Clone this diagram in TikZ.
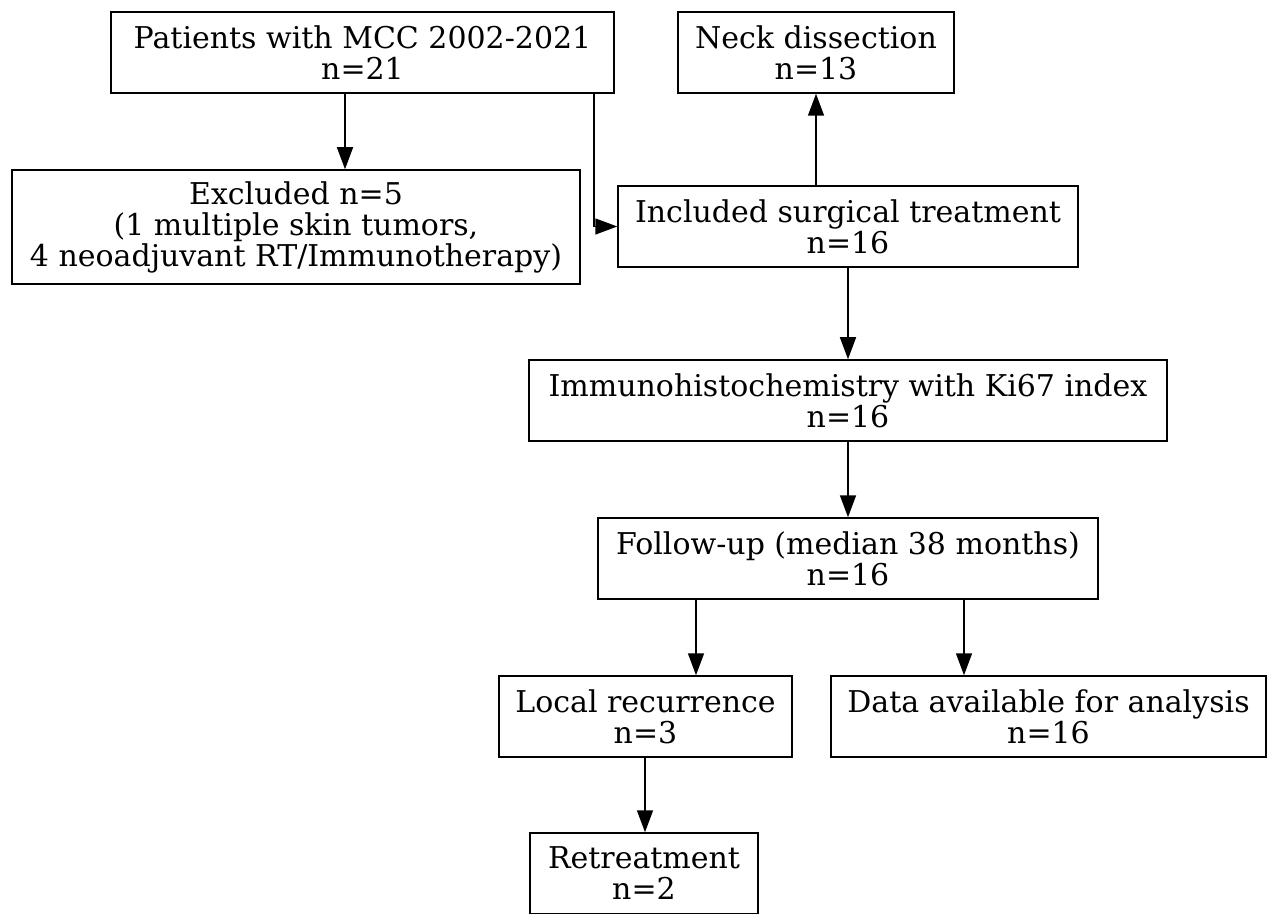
\documentclass[tikz,border=0pt]{standalone}
\usepackage{fontspec}
\setmainfont{DejaVu Serif}
\usetikzlibrary{arrows.meta}

\tikzset{
  box/.style={draw, line width=0.75pt, align=center, inner sep=0pt,
    font=\fontsize{15}{15.5}\selectfont},
  arr/.style={-{Triangle[length=11pt,width=8pt]}, line width=0.75pt}
}

\begin{document}
\begin{tikzpicture}[x=0.5pt,y=-0.5pt]
\useasboundingbox (0,0) rectangle (1268,914);
\node[box, minimum width=251.5pt, minimum height=40.5pt] (patients) at (362.5,52.5) {Patients with MCC 2002-2021\\n=21};
\node[box, minimum width=138pt, minimum height=40.5pt] (neck) at (816,52.5) {Neck dissection\\n=13};
\node[box, minimum width=284pt, minimum height=57pt] (excluded) at (296,227) {Excluded n=5\\(1 multiple skin tumors,\\4 neoadjuvant RT/Immunotherapy)};
\node[box, minimum width=230pt, minimum height=40.5pt] (included) at (848,226.5) {Included surgical treatment\\n=16};
\node[box, minimum width=319pt, minimum height=40.5pt] (immuno) at (848,400.5) {Immunohistochemistry with Ki67 index\\n=16};
\node[box, minimum width=250pt, minimum height=40.5pt] (follow) at (848,558.5) {Follow-up (median 38 months)\\n=16};
\node[box, minimum width=146.5pt, minimum height=40.5pt] (local) at (645.5,716.5) {Local recurrence\\n=3};
\node[box, minimum width=217.5pt, minimum height=40.5pt] (data) at (1048.5,716.5) {Data available for analysis\\n=16};
\node[box, minimum width=114pt, minimum height=40.5pt] (retreat) at (644,873.5) {Retreatment\\n=2};
% connectors
\draw[arr] ([xshift=-8.75pt]patients.south) -- ([xshift=-8.75pt]patients.south |- excluded.north);
\draw[arr] ([xshift=115.75pt]patients.south) |- (included.west);
\draw[arr] (included.north -| neck.south) -- (neck.south);
\draw[arr] (included.south) -- (immuno.north);
\draw[arr] (immuno.south) -- (follow.north);
\draw[arr] ([xshift=-76pt]follow.south) -- ([xshift=-76pt]follow.south |- local.north);
\draw[arr] ([xshift=58pt]follow.south) -- ([xshift=58pt]follow.south |- data.north);
\draw[arr] ([xshift=-0.25pt]local.south) -- ([xshift=-0.25pt]local.south |- retreat.north);
\end{tikzpicture}
\end{document}
